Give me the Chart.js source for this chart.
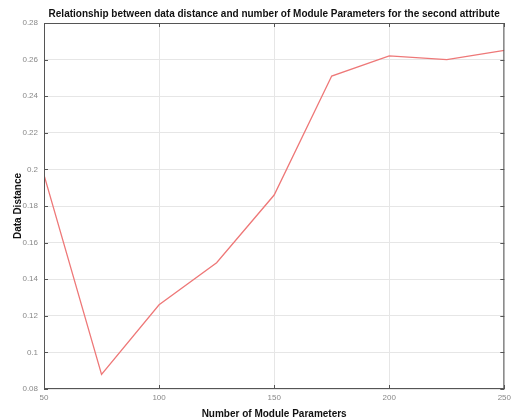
<!DOCTYPE html>
<html>
<head>
<meta charset="utf-8">
<script src="https://cdn.jsdelivr.net/npm/chart.js@4"></script>
<style>
  html, body { margin: 0; padding: 0; background: #fff; }
  #wrap { width: 515px; height: 420px; }
</style>
</head>
<body>
<div id="wrap"><canvas id="grafico"></canvas></div>
<script>
// dados
const parametros = [50, 75, 100, 125, 150, 175, 200, 225, 250];
const distancias = [0.197, 0.088, 0.126, 0.149, 0.186, 0.251, 0.262, 0.260, 0.265];
const ticksX = [50, 100, 150, 200, 250];
const ticksY = [0.08, 0.1, 0.12, 0.14, 0.16, 0.18, 0.2, 0.22, 0.24, 0.26, 0.28];
const titulo = 'Relationship between data distance and number of Module Parameters for the second attribute';

const fonte = "'Liberation Sans', Arial, sans-serif";

// moldura, marcas internas e titulo centrado nos eixos (estilo MATLAB)
const moldura = {
    id: 'moldura',
    afterDraw(chart) {
        const { ctx, chartArea: a, scales } = chart;
        ctx.save();
        ctx.strokeStyle = '#555';
        ctx.lineWidth = 1;
        ctx.strokeRect(a.left + 0.5, a.top + 0.5, a.right - a.left - 1, a.bottom - a.top - 1);
        ctx.beginPath();
        ticksX.forEach(v => {
            const px = Math.round(scales.x.getPixelForValue(v)) + 0.5;
            ctx.moveTo(px, a.bottom); ctx.lineTo(px, a.bottom - 4);
            ctx.moveTo(px, a.top); ctx.lineTo(px, a.top + 4);
        });
        ticksY.forEach(v => {
            const py = Math.round(scales.y.getPixelForValue(v)) + 0.5;
            ctx.moveTo(a.left, py); ctx.lineTo(a.left + 4, py);
            ctx.moveTo(a.right, py); ctx.lineTo(a.right - 4, py);
        });
        ctx.stroke();

        ctx.fillStyle = '#111';
        ctx.font = 'bold 10px ' + fonte;
        ctx.textAlign = 'center';
        ctx.textBaseline = 'middle';
        ctx.fillText(titulo, (a.left + a.right) / 2, a.top - 9);
        ctx.restore();
    }
};

const ctx = document.getElementById('grafico').getContext('2d');
new Chart(ctx, {
    type: 'line',
    data: {
        datasets: [{
            data: parametros.map((p, i) => ({ x: p, y: distancias[i] })),
            borderColor: 'rgba(238, 120, 120, 1)',
            borderWidth: 1.3,
            pointRadius: 0,
            tension: 0,
            fill: false
        }]
    },
    options: {
        responsive: true,
        maintainAspectRatio: false,
        animation: false,
        layout: { padding: { left: 0, right: 6, top: 23, bottom: 0 } },
        plugins: {
            legend: { display: false },
            tooltip: { enabled: false },
            title: { display: false }
        },
        scales: {
            x: {
                type: 'linear',
                min: 50,
                max: 250,
                afterBuildTicks: s => { s.ticks = ticksX.map(v => ({ value: v })); },
                afterFit: s => { s.height = 31; },
                grid: { color: '#e6e6e6', drawTicks: false },
                border: { display: false },
                ticks: {
                    color: '#888',
                    font: { family: fonte, size: 8 },
                    padding: 4,
                    maxRotation: 0,
                    callback: v => String(v)
                },
                title: {
                    display: true,
                    text: 'Number of Module Parameters',
                    color: '#111',
                    font: { family: fonte, size: 10, weight: 'bold' },
                    padding: { top: 0, bottom: 0 }
                }
            },
            y: {
                min: 0.08,
                max: 0.28,
                afterBuildTicks: s => { s.ticks = ticksY.map(v => ({ value: v })); },
                afterFit: s => { s.width = 44; },
                grid: { color: '#e6e6e6', drawTicks: false },
                border: { display: false },
                ticks: {
                    color: '#888',
                    font: { family: fonte, size: 8 },
                    padding: 6,
                    callback: v => String(parseFloat(v.toFixed(2)))
                },
                title: {
                    display: true,
                    text: 'Data Distance',
                    color: '#111',
                    font: { family: fonte, size: 10, weight: 'bold' },
                    padding: { top: 12, bottom: 0 }
                }
            }
        }
    },
    plugins: [moldura]
});
</script>
</body>
</html>
